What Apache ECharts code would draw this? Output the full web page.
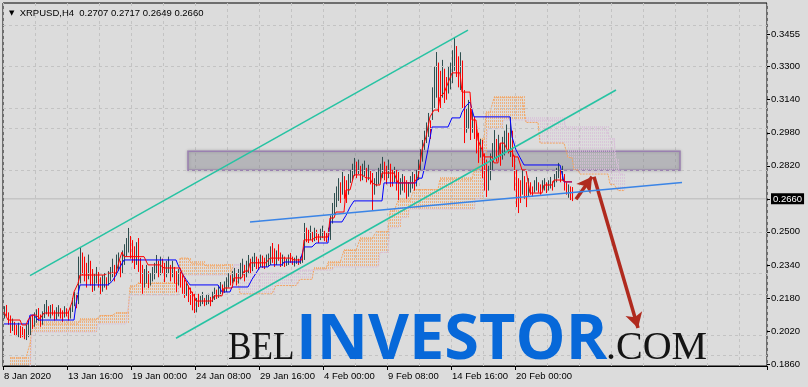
<!DOCTYPE html>
<html><head><meta charset="utf-8">
<script src="https://cdn.jsdelivr.net/npm/echarts@6/dist/echarts.min.js"></script>
<style>html,body{margin:0;padding:0;background:#dcdcdc;}#c{width:808px;height:387px;}</style>
</head><body><div id="c"></div>
<script>
// ---------------- data ----------------
const symbolName = 'XRPUSD,H4';
const lastOHLC = [0.2707, 0.2717, 0.2649, 0.2660];
const timeLabels = ['8 Jan 2020','13 Jan 16:00','19 Jan 00:00','24 Jan 08:00','29 Jan 16:00','4 Feb 00:00','9 Feb 08:00','14 Feb 16:00','20 Feb 00:00'];
const priceTicks = [0.1860,0.2020,0.2180,0.2340,0.2500,0.2660,0.2820,0.2980,0.3140,0.3300,0.3455];

// H4 bars (price x 10000), one per bar
const highs = [
2140,2146,2110,2095,2080,2064,2050,2060,2045,2040,
2030,2050,2070,2090,2097,2110,2125,2131,2100,2115,
2150,2170,2140,2146,2150,2120,2135,2145,2130,2120,
2140,2130,2115,2135,2180,2209,2200,2380,2427,2400,
2380,2350,2390,2360,2320,2300,2330,2306,2280,2290,
2300,2280,2310,2330,2370,2340,2390,2400,2360,2410,
2440,2470,2519,2480,2460,2430,2450,2470,2374,2340,
2320,2340,2310,2300,2330,2350,2388,2360,2380,2370,
2350,2360,2380,2340,2360,2330,2310,2320,2306,2290,
2270,2260,2240,2230,2210,2200,2180,2200,2190,2209,
2180,2195,2200,2185,2210,2230,2220,2240,2257,2245,
2260,2280,2300,2290,2310,2325,2300,2320,2350,2370,
2340,2360,2388,2370,2380,2398,2380,2370,2390,2385,
2375,2390,2395,2430,2446,2420,2410,2440,2400,2390,
2380,2370,2390,2398,2380,2375,2385,2370,2380,2395,
2543,2520,2510,2530,2500,2520,2510,2490,2515,2530,
2505,2495,2520,2580,2640,2688,2720,2760,2740,2790,
2770,2750,2780,2800,2830,2858,2840,2850,2820,2830,
2845,2810,2825,2800,2785,2760,2790,2810,2830,2863,
2840,2820,2850,2830,2800,2815,2800,2790,2760,2780,
2770,2750,2740,2770,2790,2780,2800,2850,2900,2945,
2990,3030,3076,3040,3200,3300,3371,3320,3280,3333,
3290,3250,3300,3320,3380,3444,3400,3350,3370,3330,
3187,3100,3139,3100,3080,3057,3020,2980,2950,2945,
2880,2850,2820,2880,2930,2993,2950,2970,2930,2960,
2990,3020,2980,3057,2990,2870,2800,2760,2750,2800,
2770,2740,2760,2740,2720,2750,2766,2740,2730,2750,
2760,2740,2750,2766,2745,2780,2810,2834,2800,2820,
2780,2740,2730,2720,2717];
const lows = [
2080,2090,2050,2010,2020,2000,1995,1990,1986,1990,
1980,1976,1990,2000,2030,2040,2060,2070,2040,2050,
2083,2100,2090,2080,2095,2070,2075,2090,2080,2064,
2085,2090,2070,2080,2112,2140,2130,2150,2250,2290,
2260,2230,2270,2240,2209,2215,2250,2230,2194,2210,
2230,2220,2240,2260,2280,2260,2290,2310,2280,2300,
2340,2380,2400,2370,2350,2320,2340,2306,2250,2200,
2230,2250,2228,2240,2260,2270,2300,2280,2290,2300,
2257,2280,2300,2260,2280,2250,2209,2240,2230,2200,
2180,2190,2160,2146,2120,2107,2110,2136,2140,2150,
2140,2145,2150,2140,2160,2170,2175,2180,2190,2200,
2205,2209,2230,2240,2250,2260,2240,2250,2270,2290,
2260,2280,2300,2300,2310,2330,2320,2315,2330,2325,
2320,2330,2335,2340,2350,2330,2340,2360,2330,2335,
2330,2335,2340,2350,2340,2332,2345,2340,2345,2350,
2364,2450,2446,2460,2450,2455,2460,2446,2460,2470,
2455,2450,2460,2461,2540,2580,2620,2650,2640,2680,
2660,2640,2680,2737,2750,2770,2760,2780,2745,2750,
2770,2740,2750,2730,2606,2680,2720,2730,2740,2760,
2750,2730,2760,2717,2720,2740,2700,2654,2680,2700,
2690,2660,2670,2690,2710,2700,2720,2751,2800,2840,
2897,2930,2960,2950,3042,3100,3150,3080,3100,3150,
3124,3140,3170,3190,3220,3280,3250,3200,3187,3100,
2930,2980,3000,2945,2980,2950,2880,2834,2860,2760,
2700,2669,2700,2750,2800,2850,2840,2860,2820,2850,
2870,2900,2880,2863,2814,2700,2620,2591,2640,2680,
2660,2620,2670,2680,2669,2690,2700,2690,2680,2700,
2700,2688,2700,2710,2700,2717,2740,2760,2740,2750,
2700,2680,2665,2654,2649];
// bar direction: u = up (close >= open), d = down
const dirs =
'uddduddudd'+'duuuduuddu'+'uududduudd'+'udduuuduud'+'ddudduuddu'+
'uduuuduudu'+'uuuddduddd'+'uuduuuudud'+'duududdudd'+'dudddduduu'+
'duuduuduud'+'uuuduuduuu'+'duuduuddud'+'duuudduddu'+'duudduuduu'+
'uddududduu'+'dduuuuuudu'+'dduuuududu'+'ududduuuuu'+'dduddudduu'+
'dduuuduuuu'+'uuuduuuddu'+'dduuuuddud'+'duududddud'+'dduuuududu'+
'uududddddu'+'ddudduuddu'+'uduuduuudu'+'ddudd';

// Ichimoku lines as [first bar, value x 10000] runs
const tenkanRuns = [[0,2112],[2,2073],[9,2049],[12,2073],[14,2097],[18,2080],[20,2107],[34,2160],[35,2209],[37,2250],[38,2291],[51,2300],[58,2373],[59,2402],[60,2380],[72,2340],[80,2325],[89,2300],[91,2260],[93,2220],[95,2190],[96,2165],[105,2190],[110,2228],[115,2277],[120,2310],[123,2350],[133,2373],[145,2364],[150,2461],[156,2475],[163,2567],[166,2596],[171,2703],[175,2776],[181,2761],[184,2737],[186,2727],[189,2785],[197,2737],[207,2766],[208,2830],[209,2897],[211,2960],[213,3057],[215,3090],[218,3153],[220,3172],[222,3221],[224,3270],[229,3177],[234,3042],[237,2945],[239,2897],[240,2863],[245,2834],[248,2930],[252,2890],[255,2863],[259,2800],[263,2688],[270,2727],[275,2751],[280,2742]];
const kijunRuns = [[0,2054],[13,2097],[17,2073],[36,2150],[37,2200],[38,2243],[54,2260],[56,2290],[58,2330],[60,2364],[87,2340],[89,2300],[91,2270],[93,2243],[109,2209],[114,2233],[124,2270],[126,2300],[128,2330],[133,2340],[140,2354],[150,2427],[156,2446],[163,2548],[171,2580],[173,2620],[175,2650],[190,2737],[207,2760],[210,2800],[212,2900],[214,3008],[224,3052],[229,3080],[231,3110],[233,3129],[235,3057],[254,2960],[256,2897],[258,2860],[260,2824],[280,2742]];
const spanARuns = [[3,1889],[13,1960],[14,2025],[15,2054],[38,2073],[48,2095],[56,2107],[63,2233],[67,2250],[88,2373],[94,2345],[101,2335],[110,2340],[115,2260],[118,2200],[136,2240],[148,2270],[155,2320],[162,2350],[170,2410],[178,2465],[186,2500],[193,2600],[197,2650],[205,2705],[218,2755],[235,2800],[238,2945],[241,3076],[245,3150],[261,3030],[268,2930],[282,2860],[285,2800],[288,2780],[303,2730],[307,2700]];
const spanBRuns = [[3,1830],[14,2015],[47,2054],[63,2194],[88,2291],[115,2340],[125,2300],[148,2315],[165,2330],[188,2400],[193,2520],[199,2570],[203,2610],[236,2660],[240,2850],[242,3000],[250,3042],[281,3000],[303,2950],[306,2850],[308,2780]];
const lastBar = 284, lastCloud = 310, slotCount = 382;

// drawn objects: [bar index, price]
const upperChannel = [[13,0.22882],[232,0.34773]];
const lowerChannel = [[86,0.19845],[306,0.31871]];
const supportLine = [[123,0.25478],[339,0.27391]];
const zoneBox = [[91.5,0.28907],[337.5,0.27982]];
const smallArrow = [[286,0.26577],[294,0.27672]];
const bigArrow = [[295,0.27672],[317,0.20344]];

// ---------------- build ----------------
function expandRuns(runs, last){
  const out = new Array(last+1).fill(null);
  for(let i=0;i<runs.length;i++){
    const s=runs[i][0], e=(i+1<runs.length)?runs[i+1][0]:last+1;
    for(let k=s;k<e;k++) out[k]=runs[i][1]/10000;
  }
  return out;
}
const cats = Array.from({length:slotCount},(_,i)=>String(i));
const tenkan = expandRuns(tenkanRuns,lastBar);
const kijun = expandRuns(kijunRuns,lastBar);
const spanA = expandRuns(spanARuns,lastCloud);
const spanB = expandRuns(spanBRuns,lastCloud);
const barData = highs.map((h,k)=>[k, lows[k]/10000, h/10000, dirs[k]==='d'?0:1]);
const cloudData = [];
for(let k=0;k<=lastCloud;k++){ if(spanA[k]!=null&&spanB[k]!=null) cloudData.push([k,spanA[k],spanB[k]]); }

const FONT = '"Liberation Sans", Arial, sans-serif';
const chart = echarts.init(document.getElementById('c'), null, {renderer:'canvas'});
const lastClose = lastOHLC[3];

const option = {
  backgroundColor:'#dcdcdc',
  animation:false,
  title:{
    text:'{t|▼}  '+symbolName+'  '+lastOHLC.map(v=>v.toFixed(4)).join(' '),
    left:4, top:3,
    textStyle:{fontSize:9.5, fontWeight:'normal', color:'#000', fontFamily:FONT,
      rich:{t:{fontSize:7, color:'#000', fontFamily:'DejaVu Sans'}}}
  },
  grid:{left:3, right:41, top:3, bottom:21, show:true, borderColor:'#000', borderWidth:1, backgroundColor:'transparent'},
  xAxis:{
    type:'category', data:cats, boundaryGap:true,
    axisLine:{show:true, lineStyle:{color:'#000', width:1}},
    axisTick:{show:true, length:4, interval:(i)=>i%32===0 && i<=256, lineStyle:{color:'#000'}},
    axisLabel:{interval:(i)=>i%32===0 && i<=256, formatter:(v,i)=>timeLabels[i/32]||'', align:'left', margin:5,
      fontSize:9.5, color:'#000', fontFamily:FONT},
    splitLine:{show:true, interval:15, lineStyle:{color:'#c3c3c3', type:[3,3], width:1}}
  },
  yAxis:{
    type:'value', position:'right', min:0.18503, max:0.36085,
    axisLine:{show:false},
    axisTick:{show:true, length:3, customValues:priceTicks, lineStyle:{color:'#000'}},
    axisLabel:{customValues:priceTicks, margin:4, fontSize:9.5, color:'#000', fontFamily:FONT,
      formatter:(v)=>Math.abs(v-lastClose)<1e-6 ? '{hl|'+v.toFixed(4)+'}' : v.toFixed(4),
      rich:{hl:{backgroundColor:'#000', color:'#fff', padding:[1,2,0,2], fontSize:9.5, fontFamily:FONT}}},
    splitLine:{show:false}
  },
  series:[
    { // horizontal grid
      type:'line', data:[], z:1, silent:true,
      markLine:{silent:true, symbol:['none','none'], label:{show:false}, animation:false,
        lineStyle:{color:'#c3c3c3', type:[3,3], width:1},
        data: priceTicks.filter(v=>Math.abs(v-lastClose)>1e-6).map(v=>({yAxis:v}))}
    },
    { // bid line
      type:'line', data:[[0,lastClose],[slotCount-1,lastClose]], z:1, silent:true, symbol:'none',
      lineStyle:{color:'#bababa', width:1}
    },
    { // kumo hatching
      type:'custom', z:2, silent:true, data:cloudData, encode:{x:0,y:[1,2]},
      renderItem:(p,api)=>{
        const k=api.value(0), a=api.value(1), b=api.value(2);
        const pa=api.coord([k,a]), pb=api.coord([k,b]);
        const cs=p.coordSys;
        const x=Math.round(pa[0])+0.5;
        let y1=Math.min(pa[1],pb[1]), y2=Math.max(pa[1],pb[1]);
        y1=Math.max(Math.floor(y1/3)*3, cs.y); y2=Math.min(y2, cs.y+cs.height);
        if(y2<=y1) return null;
        return {type:'line', shape:{x1:x,y1:y1,x2:x,y2:y2},
          style:{stroke:a>=b?'#f4a460':'#d8bfd8', lineWidth:1, lineDash:[2,1], opacity:0.75}};
      }
    },
    {type:'line', name:'Senkou A', data:spanA, z:2, symbol:'none', silent:true, connectNulls:false,
      lineStyle:{color:'#f4a460', width:1, type:[2,1]}},
    {type:'line', name:'Senkou B', data:spanB, z:2, symbol:'none', silent:true, connectNulls:false,
      lineStyle:{color:'#d8bfd8', width:1, type:[2,1]}},
    { // OHLC bars (high-low lines)
      type:'custom', z:3, silent:true, data:barData, encode:{x:0,y:[1,2]},
      renderItem:(p,api)=>{
        const k=api.value(0);
        const lo=api.coord([k,api.value(1)]), hi=api.coord([k,api.value(2)]);
        const x=Math.round(lo[0])+0.5;
        return {type:'line', shape:{x1:x,y1:lo[1],x2:x,y2:hi[1]},
          style:{stroke:api.value(3)?'#2f4f4f':'#ff0000', lineWidth:1}};
      }
    },
    {type:'line', name:'Kijun', data:kijun, z:4, symbol:'none', silent:true, lineStyle:{color:'#0000ff', width:1}},
    {type:'line', name:'Tenkan', data:tenkan, z:4, symbol:'none', silent:true, lineStyle:{color:'#ff0000', width:1}},
    {type:'line', data:upperChannel, z:5, symbol:'none', silent:true, lineStyle:{color:'#27c3a3', width:1.6}},
    {type:'line', data:lowerChannel, z:5, symbol:'none', silent:true, lineStyle:{color:'#27c3a3', width:1.6}},
    {type:'line', data:supportLine, z:5, symbol:'none', silent:true, lineStyle:{color:'#3a84e6', width:1.6}},
    { // zone rectangle + arrows
      type:'line', data:[], z:6, silent:true,
      markArea:{silent:true, itemStyle:{color:'rgba(140,140,152,0.32)', borderColor:'#9a80b0', borderWidth:1.5,
          shadowBlur:3, shadowColor:'rgba(0,0,0,0.25)'},
        data:[[{coord:zoneBox[0]},{coord:zoneBox[1]}]]},
      markLine:{silent:true, symbol:['none','arrow'], symbolSize:[13,15], label:{show:false},
        lineStyle:{color:'#b02a1e', width:3.5, type:'solid'},
        data:[[{coord:smallArrow[0]},{coord:smallArrow[1]}],[{coord:bigArrow[0]},{coord:bigArrow[1]}]]}
    }
  ],
  graphic:[
    {type:'text', x:228, y:348, scaleX:0.88, z:100, silent:true,
      style:{text:'BEL', font:'40px "Liberation Serif", serif', fill:'#141414', align:'left', verticalAlign:'middle'}},
    {type:'text', x:296, y:341, z:100, silent:true,
      style:{text:'INVESTOR', font:'bold 63px "Open Sans", sans-serif', fill:'#0768d9', align:'left', verticalAlign:'middle'}},
    {type:'text', x:606, y:348, z:100, silent:true,
      style:{text:'.COM', font:'40px "Liberation Serif", serif', fill:'#141414', align:'left', verticalAlign:'middle'}}
  ]
};
chart.setOption(option);
</script></body></html>
